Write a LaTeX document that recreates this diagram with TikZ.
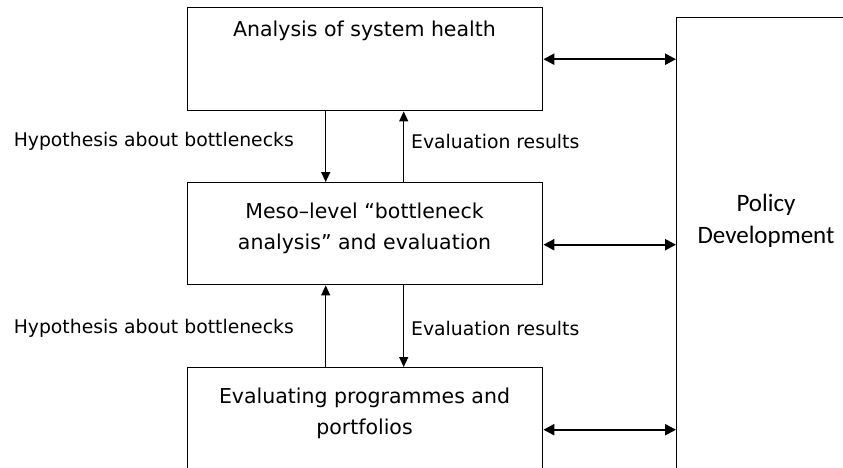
\documentclass[tikz,border=0pt]{standalone}
\usepackage{fontspec}
\setmainfont{DejaVu Sans}
\newfontfamily\calfont{Carlito}
\usetikzlibrary{arrows.meta}
\begin{document}
\begin{tikzpicture}[x=1pt,y=-1pt,
  box/.style={draw, line width=1.4pt, inner sep=0pt},
  txt/.style={font=\fontsize{20.5}{31}\selectfont, align=center, inner sep=0pt},
  lbl/.style={font=\fontsize{18.8}{31}\selectfont, inner sep=0pt},
  poltxt/.style={font=\calfont\fontsize{25}{32}\selectfont, align=center, inner sep=0pt},
  harr/.style={line width=2.4pt, {Triangle[length=11pt,width=11pt]}-{Triangle[length=11pt,width=11pt]}},
  varr/.style={line width=1.4pt, -{Triangle[length=10pt,width=9pt]}}]
\useasboundingbox (0,0) rectangle (843,467);
\clip (0,0) rectangle (843,467);
% boxes
\node[box, minimum width=355pt, minimum height=103pt, anchor=north west] (top) at (187,7) {};
\node[box, minimum width=355pt, minimum height=102pt, anchor=north west] (mid) at (187,182) {};
\node[box, minimum width=355pt, minimum height=124pt, anchor=north west] (bot) at (187,367) {};
\node[box, minimum width=220pt, minimum height=500pt, anchor=north west] (pol) at (676,17) {};
% texts
\node[txt] (toptxt) at (364.5,31) {Analysis of system health};
\node[txt] (midtxt) at (364.5,228) {Meso–level “bottleneck\\analysis” and evaluation};
\node[txt] (bottxt) at (364.5,413) {Evaluating programmes and\\portfolios};
\node[poltxt] (poltext) at (766,221) {Policy\\Development};
% labels
\node[lbl, anchor=east] (hyp1) at (294,141) {Hypothesis about bottlenecks};
\node[lbl, anchor=west] (eval1) at (411,141) {Evaluation results};
\node[lbl, anchor=east] (hyp2) at (294,328) {Hypothesis about bottlenecks};
\node[lbl, anchor=west] (eval2) at (411,328) {Evaluation results};
% horizontal arrows
\coordinate (t1) at (top.east);
\coordinate (m1) at ([yshift=-11pt]mid.east);
\coordinate (g1) at (bot.east);
\draw[harr] (t1) -- (t1 -| pol.west);
\draw[harr] (m1) -- (m1 -| pol.west);
\draw[harr] (g1) -- (g1 -| pol.west);
% vertical arrows
\coordinate (a1) at ([xshift=-39.5pt]top.south);
\coordinate (b1) at ([xshift=38.5pt]top.south);
\coordinate (a2) at ([xshift=-39.5pt]mid.south);
\coordinate (b2) at ([xshift=38.5pt]mid.south);
\draw[varr] (a1) -- (a1 |- mid.north);
\draw[varr] (b1 |- mid.north) -- (b1);
\draw[varr] (a2 |- bot.north) -- (a2);
\draw[varr] (b2) -- (b2 |- bot.north);
\end{tikzpicture}
\end{document}
